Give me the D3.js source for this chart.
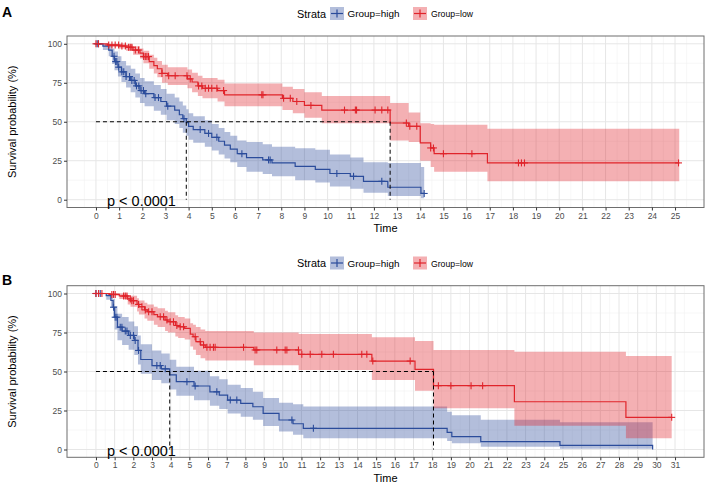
<!DOCTYPE html>
<html><head><meta charset="utf-8">
<script src="https://cdn.jsdelivr.net/npm/d3@7/dist/d3.min.js"></script>
<style>body{margin:0;background:#fff}text{font-family:"Liberation Sans",Arial,sans-serif}</style>
</head><body><svg id="c" width="708" height="485"></svg>
<script>
// ---------- data ----------
const strata = ["Group=high", "Group=low"];
const yTicks = [0, 25, 50, 75, 100];
const aXTicks = [0,1,2,3,4,5,6,7,8,9,10,11,12,13,14,15,16,17,18,19,20,21,22,23,24,25];
const bXTicks = [0,1,2,3,4,5,6,7,8,9,10,11,12,13,14,15,16,17,18,19,20,21,22,23,24,25,26,27,28,29,30,31];
const pText = "p < 0.0001";

// Panel A, Group=high
const aHighTime  = [0,0.3,0.55,0.7,0.8,0.95,1.1,1.3,1.5,1.7,1.9,2.1,2.5,2.8,3.05,3.4,3.6,3.75,3.9,4.0,4.2,4.7,5.0,5.3,5.55,5.8,6.1,6.5,7.2,7.6,8.6,9.47,10.1,10.98,11.55,12.6,14.03];
const aHighSurv  = [100,98.5,96,92,88.6,85,82,79,76.5,73,70,68,65.5,63,60,57.5,54.5,52,49.5,47,45,42.5,40,37.5,35,32.5,29.5,27,25.5,23.6,21.4,19.5,16.8,15,11.8,8,4];
const aHighUpper = [100,100,99,97,95,92,89,86,84,81,78,76,73.5,71,68,65.5,63,60.5,58,55.5,53.5,51,48.5,46,43.5,41,38,37,35.5,34,33,32,29,27,24,23.6,21];
const aHighLower = [100,96,92,87,83,79,75.5,72,69,65.5,62,60,57,54.5,51,48.5,46,43,41,38.5,36.5,34,31.5,29,26.5,24,21,18,16.5,15,12.5,11,8.5,7,4.5,2.3,1];
const aHighEnd = 14.17;
const aHighCensor = [0.05,0.1,0.78,0.85,0.9,0.98,1.12,1.2,1.3,1.45,1.55,1.65,1.75,1.85,1.95,2.05,2.15,2.55,2.7,3.1,3.8,4.5,4.86,5.22,6.3,7.45,7.52,10.4,11.12,12.34,14.17];

// Panel A, Group=low
const aLowTime  = [0,0.5,1.0,1.3,1.6,1.9,2.05,2.3,2.5,2.65,2.85,3.1,3.95,4.15,4.4,4.6,5.25,5.55,8.05,8.5,9.0,9.75,12.7,13.5,14.0,14.45,14.6,16.9];
const aLowSurv  = [100,99.2,98.6,97.8,96,94,91.8,88.6,86,84,81,79.5,77.5,75.5,73,71.5,70,67.3,65,63,60.5,57.5,49.2,47.1,36.4,33.2,29.5,23.6];
const aLowUpper = [100,100,100,99.5,98.5,97,95.5,93,91,89,86.5,85,83.5,81.5,79.5,78,77,74.5,72.5,71,69,66.5,62,56,49,48.5,48,45.5];
const aLowLower = [100,98,97,95.5,93,90.5,87.5,84,81,78.5,75,73.5,71.5,69,66.5,65,63,60,57.5,55.5,52.5,49,38,37,25,21,18,11.8];
const aLowEnd = 25.18;
const aLowCensor = [0,0.11,0.55,0.69,0.83,0.98,1.12,1.27,1.41,1.48,1.55,1.7,1.84,2.06,2.13,2.2,2.27,2.85,3.14,3.42,3.93,4.07,4.43,4.57,4.72,4.86,5.0,5.22,5.51,7.16,7.21,8.1,8.39,8.67,9.28,10.73,11.2,11.25,12.05,12.34,12.6,13.4,13.55,13.85,14.45,14.57,15.0,16.23,18.24,18.37,18.5,25.15];

// Panel B, Group=high
const bHighTime  = [0,0.55,0.8,0.92,1.0,1.15,1.4,1.75,2.05,2.25,2.4,3.0,3.5,3.95,4.3,5.25,6.1,6.6,7.05,7.75,8.4,8.95,9.8,10.55,11.1,18.8,19.05,20.6,24.84,29.8];
const bHighSurv  = [100,98.7,95.5,91.2,84.8,78.4,75.9,73.1,69.9,63.5,57.7,53.8,51.7,47.8,43.5,40.7,37,34.9,31.7,29.6,27.4,23.2,18.9,16.5,13.6,11,8.2,5,2.6,0];
const bHighUpper = [100,100,99,96.5,92,87,85,82,79,73,67.5,63.5,61.5,57.5,53,50.5,47,45,41.5,39.5,37,33,30,29,27.5,24.2,22,19,17.4,17.4];
const bHighLower = [100,96,91,85,77,70,67,64,60.5,54.5,48.5,44.5,42.5,38.5,34.5,31.5,28,26,23,21,19,15,11.5,9.5,7.2,5.5,4,1.8,0.5,0.5];
const bHighEnd = 29.8;
const bHighCensor = [0,0.23,0.94,1.03,1.12,1.3,1.39,1.57,1.66,1.84,2.01,2.1,2.28,3.26,3.44,3.71,4.87,5.31,6.47,7.19,7.54,10.49,11.64];

// Panel B, Group=low
const bLowTime  = [0,0.75,1.25,1.7,1.85,2.2,2.3,2.6,2.75,3.1,3.3,3.7,3.85,4.25,4.4,4.75,5.05,5.2,5.35,5.6,5.85,8.45,10.85,14.77,17.08,18.07,22.4,28.37];
const bLowSurv  = [100,99.4,98.4,96.5,95.4,93,91.5,89.5,88.3,86.5,85.1,83,81.9,79.5,78.7,77.6,74,72.3,69.1,67,65.5,63.8,61,56.7,51.4,40.9,30.6,20.6];
const bLowUpper = [100,100,100,99,98.5,97,95.5,94,93,91.5,90.5,89,88,86,85,84,81,80,78.5,77,76,75,74,72,69.6,63.8,62.7,59.9];
const bLowLower = [100,98.5,96.5,93,91.5,88.5,86.5,84,82.5,80,78.5,76,75,72.5,71.5,70.5,66,64,60.5,58.5,57,54,51,44.6,37.7,26.4,15.3,7.2];
const bLowEnd = 30.82;
const bLowCensor = [0,0.14,0.32,0.85,0.94,1.03,1.48,1.57,1.66,1.84,1.92,2.01,2.28,2.46,2.64,2.82,3.0,3.44,3.62,3.8,3.97,4.15,4.33,4.51,4.69,5.31,5.58,5.76,5.94,6.11,6.29,6.38,7.9,8.52,8.61,9.68,10.13,10.22,10.84,11.02,11.47,12.09,12.71,14.23,14.5,14.82,16.82,18.33,19.0,20.08,20.7,30.82];

// ---------- styling ----------
const colHigh = "#2B4C9B", colLow = "#E0242B";
const bandOpacity = 0.36;
const svg = d3.select("#c");

function mk(time, surv, upper, lower, end, censor, color) {
  return {time, surv, upper, lower, end, censor, color};
}

function drawPanel(cfg) {
  const L = cfg.xTicks[cfg.xTicks.length - 1];
  const x = d3.scaleLinear().domain([-0.05 * L, 1.05 * L]).range([67, 704]);
  const y = d3.scaleLinear().domain([-5, 105]).range([cfg.bottom, cfg.top]);
  const g = svg.append("g");

  // grid
  const minorX = [];
  for (let i = 0; i <= cfg.xTicks.length; i++) {
    const v = cfg.xTicks[0] - 0.5 + i;
    if (v >= x.domain()[0] && v <= x.domain()[1]) minorX.push(v);
  }
  const minorY = [12.5, 37.5, 62.5, 87.5];
  g.selectAll(".mx").data(minorX).join("line")
    .attr("x1", d => x(d)).attr("x2", d => x(d)).attr("y1", cfg.top).attr("y2", cfg.bottom)
    .attr("stroke", "#F2F2F2").attr("stroke-width", 0.6);
  g.selectAll(".my").data(minorY).join("line")
    .attr("x1", 67).attr("x2", 704).attr("y1", d => y(d)).attr("y2", d => y(d))
    .attr("stroke", "#F2F2F2").attr("stroke-width", 0.6);
  g.selectAll(".gx").data(cfg.xTicks).join("line")
    .attr("x1", d => x(d)).attr("x2", d => x(d)).attr("y1", cfg.top).attr("y2", cfg.bottom)
    .attr("stroke", "#E6E6E6").attr("stroke-width", 1);
  g.selectAll(".gy").data(yTicks).join("line")
    .attr("x1", 67).attr("x2", 704).attr("y1", d => y(d)).attr("y2", d => y(d))
    .attr("stroke", "#E6E6E6").attr("stroke-width", 1);

  // bands
  cfg.curves.forEach(c => {
    const pts = c.time.map((t, i) => ({t, s: c.surv[i], u: c.upper[i], l: c.lower[i]}));
    const last = pts[pts.length - 1];
    pts.push({t: c.end, s: last.s, u: last.u, l: last.l});
    c.pts = pts;
    g.append("path").datum(pts)
      .attr("d", d3.area().curve(d3.curveStepAfter).x(d => x(d.t)).y0(d => y(d.l)).y1(d => y(d.u)))
      .attr("fill", c.color).attr("fill-opacity", bandOpacity).attr("stroke", "none");
  });
  // lines
  cfg.curves.forEach(c => {
    g.append("path").datum(c.pts)
      .attr("d", d3.line().curve(d3.curveStepAfter).x(d => x(d.t)).y(d => y(d.s)))
      .attr("fill", "none").attr("stroke", c.color).attr("stroke-width", 1.2);
  });
  // censor marks
  cfg.curves.forEach(c => {
    const sAt = t => { let v = c.surv[0]; for (let i = 0; i < c.time.length; i++) if (c.time[i] <= t) v = c.surv[i]; return v; };
    const m = g.append("g").attr("stroke", c.color).attr("stroke-width", 1.1);
    c.censor.forEach(t => {
      const px = x(t), py = y(sAt(t));
      m.append("line").attr("x1", px - 3.5).attr("x2", px + 3.5).attr("y1", py).attr("y2", py);
      m.append("line").attr("x1", px).attr("x2", px).attr("y1", py - 3.5).attr("y2", py + 3.5);
    });
  });
  // median lines
  const meds = cfg.curves.map(c => { const i = c.surv.findIndex(s => s <= 50); return i >= 0 ? c.time[i] : null; }).filter(v => v !== null);
  const dash = g.append("g").attr("stroke", "#000").attr("stroke-width", 1).attr("stroke-dasharray", "4,3").attr("fill", "none");
  dash.append("line").attr("x1", x(0)).attr("x2", x(d3.max(meds))).attr("y1", y(50)).attr("y2", y(50));
  meds.forEach(m => dash.append("line").attr("x1", x(m)).attr("x2", x(m)).attr("y1", y(50)).attr("y2", y(0)));

  // border
  g.append("rect").attr("x", 67).attr("y", cfg.top).attr("width", 637).attr("height", cfg.bottom - cfg.top)
    .attr("fill", "none").attr("stroke", "#6e6e6e").attr("stroke-width", 1);

  // axes
  const xa = g.append("g").attr("transform", `translate(0,${cfg.bottom})`)
    .call(d3.axisBottom(x).tickValues(cfg.xTicks).tickSize(3).tickSizeOuter(0).tickPadding(2));
  xa.select(".domain").remove();
  xa.selectAll("line").attr("stroke", "#333");
  xa.selectAll("text").attr("fill", "#4D4D4D").attr("font-size", 8.5).style("font-family", '"Liberation Sans",Arial,sans-serif');
  const ya = g.append("g").attr("transform", `translate(67,0)`)
    .call(d3.axisLeft(y).tickValues(yTicks).tickSize(3).tickSizeOuter(0).tickPadding(2));
  ya.select(".domain").remove();
  ya.selectAll("line").attr("stroke", "#333");
  ya.selectAll("text").attr("fill", "#4D4D4D").attr("font-size", 8.5).style("font-family", '"Liberation Sans",Arial,sans-serif');

  // titles
  g.append("text").attr("x", 385.5).attr("y", cfg.bottom + 24.5).attr("text-anchor", "middle")
    .attr("font-size", 11).attr("fill", "#000").text("Time");
  const yc = (cfg.top + cfg.bottom) / 2;
  g.append("text").attr("transform", `translate(16,${yc}) rotate(-90)`).attr("text-anchor", "middle")
    .attr("font-size", 11).attr("fill", "#000").text("Survival probability (%)");
  g.append("text").attr("x", 107).attr("y", cfg.bottom - 1.5).attr("font-size", 14.5).attr("fill", "#000").text(pText);

  // panel label
  svg.append("text").attr("x", 2).attr("y", cfg.labelY).attr("font-size", 14).attr("font-weight", "bold").text(cfg.label);

  // legend
  const ly = cfg.legendY;
  const lg = svg.append("g");
  lg.append("text").attr("x", 297).attr("y", ly + 4).attr("font-size", 10.5).attr("fill", "#000")
    .attr("textLength", 29).attr("lengthAdjust", "spacingAndGlyphs").text("Strata");
  const keyX = [330, 413], labX = [347.5, 431];
  cfg.curves.forEach((c, i) => {
    lg.append("rect").attr("x", keyX[i]).attr("y", ly - 6.5).attr("width", 14).attr("height", 13)
      .attr("fill", c.color).attr("fill-opacity", bandOpacity);
    lg.append("line").attr("x1", keyX[i] + 1).attr("x2", keyX[i] + 13).attr("y1", ly).attr("y2", ly).attr("stroke", c.color).attr("stroke-width", 1.2);
    lg.append("line").attr("x1", keyX[i] + 7).attr("x2", keyX[i] + 7).attr("y1", ly - 4).attr("y2", ly + 4).attr("stroke", c.color).attr("stroke-width", 1.2);
    lg.append("text").attr("x", labX[i]).attr("y", ly + 3.5).attr("font-size", 9).attr("fill", "#000")
      .attr("textLength", i === 0 ? 52 : 42).attr("lengthAdjust", "spacingAndGlyphs").text(strata[i]);
  });
}

drawPanel({
  top: 36, bottom: 207.5, xTicks: aXTicks, label: "A", labelY: 17, legendY: 13.5,
  curves: [mk(aHighTime, aHighSurv, aHighUpper, aHighLower, aHighEnd, aHighCensor, colHigh),
           mk(aLowTime, aLowSurv, aLowUpper, aLowLower, aLowEnd, aLowCensor, colLow)]
});
drawPanel({
  top: 285.7, bottom: 457.3, xTicks: bXTicks, label: "B", labelY: 285, legendY: 263,
  curves: [mk(bHighTime, bHighSurv, bHighUpper, bHighLower, bHighEnd, bHighCensor, colHigh),
           mk(bLowTime, bLowSurv, bLowUpper, bLowLower, bLowEnd, bLowCensor, colLow)]
});
</script></body></html>
